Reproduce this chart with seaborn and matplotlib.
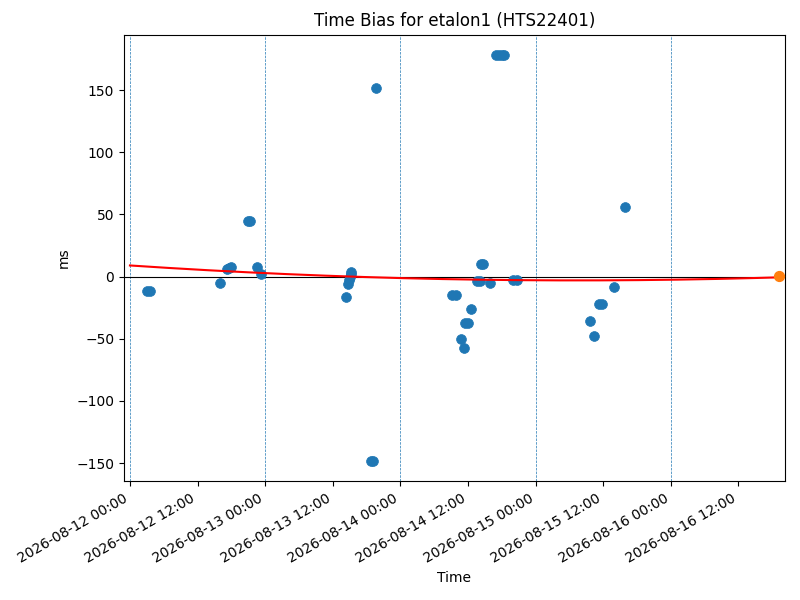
import numpy as np
import pandas as pd
import matplotlib
matplotlib.use('Agg')
import matplotlib.pyplot as plt
import matplotlib.dates as mdates
import seaborn as sns

start = pd.Timestamp('2026-08-12 00:00')

# measurement times (days after start) and time bias (ms)
t_days = [0.126, 0.148, 0.665, 0.716, 0.73, 0.75, 0.87, 0.89, 0.94, 0.97,
          1.60, 1.615, 1.62, 1.627, 1.632, 1.635, 1.78, 1.80, 1.82,
          2.38, 2.41, 2.45, 2.47, 2.48, 2.50, 2.525, 2.57, 2.59, 2.595, 2.615,
          2.66, 2.71, 2.73, 2.75, 2.77, 2.83, 2.86,
          3.40, 3.43, 3.47, 3.49, 3.58, 3.66]
bias_ms = [-11.5, -11.5, -5.5, 6, 7, 7.5, 45, 45, 7.5, 2,
           -16, -6, -2.5, 0, 2, 4, -148, -148, 152,
           -14.5, -14.5, -50, -57, -37, -37, -26, -3.5, -3.5, 10.5, 10.5,
           -5.5, 178, 178, 178, 178, -2.5, -2.5,
           -36, -47.5, -22, -22, -8, 56]

# last point (highlighted) and fitted curve coefficients
last_day = 4.80
last_ms = 0.5
fit_coef = [1.10, -7.27, 9.0]

df = pd.DataFrame({'time': start + pd.to_timedelta(t_days, unit='D'),
                   'ms': bias_ms})

fig, ax = plt.subplots(figsize=(8, 6), dpi=100)

for d in range(5):
    ax.axvline(start + pd.Timedelta(days=d), color='C0', ls='--', lw=0.5)
ax.axhline(0, color='black', lw=0.8)

sns.scatterplot(data=df, x='time', y='ms', ax=ax, color='C0', s=50,
                edgecolor='C0', linewidth=0.5, zorder=3)

fit_t = np.linspace(0, last_day, 200)
ax.plot(start + pd.to_timedelta(fit_t, unit='D'), np.polyval(fit_coef, fit_t),
        color='red', lw=1.5, zorder=4)
ax.scatter([start + pd.Timedelta(days=last_day)], [last_ms], color='C1',
           s=50, zorder=5)

ax.set_xlim(start - pd.Timedelta(days=0.044), start + pd.Timedelta(days=4.844))
ax.set_ylim(-164.5, 194.5)
ax.xaxis.set_major_locator(mdates.HourLocator(byhour=[0, 12]))
ax.xaxis.set_major_formatter(mdates.DateFormatter('%Y-%m-%d %H:%M'))
ax.set_title('Time Bias for etalon1 (HTS22401)')
ax.set_xlabel('Time')
ax.set_ylabel('ms')
fig.autofmt_xdate()
fig.subplots_adjust(left=0.155, right=0.981, top=0.942, bottom=0.198)
fig.savefig('out.png')
